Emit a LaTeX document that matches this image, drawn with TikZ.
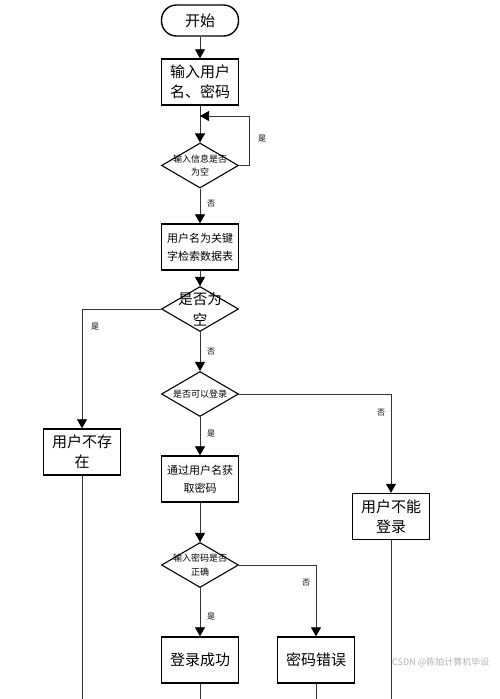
\documentclass[tikz,border=0pt]{standalone}
\usepackage{fontspec}
\setmainfont{Noto Sans CJK SC}
\usetikzlibrary{arrows.meta,shapes.geometric}
\tikzset{
  box/.style={draw=black, line width=1.4pt, rectangle, minimum width=77pt, minimum height=46pt, inner sep=0pt, align=center, fill=white},
  startbox/.style={draw=black, line width=1.4pt, rectangle, rounded corners=15pt, minimum width=77pt, minimum height=31pt, inner sep=0pt, align=center},
  dia/.style={draw=black, line width=1.1pt, diamond, minimum width=77pt, minimum height=45pt, inner sep=0pt},
  dtext/.style={align=center, inner sep=0pt},
  conn/.style={draw=black!80, line width=0.8pt},
  arr/.style={conn, -{Triangle[width=10pt,length=9pt,color=black,fill=black]}},
  lab/.style={font=\fontsize{8}{9}\selectfont, inner sep=0pt},
  big/.style={font=\fontsize{15}{20}\selectfont},
  mid/.style={font=\fontsize{11}{18}\selectfont},
  small/.style={font=\fontsize{9}{13.5}\selectfont},
}
\begin{document}
\begin{tikzpicture}[x=1pt,y=-1pt]
\useasboundingbox[fill=white] (0,0) rectangle (500,699);
% nodes
\node[startbox, big] (start) at (200,20.5) {开始};
\node[box, big] (b1) at (200,82) {输入用户\\名、密码};
\node[dia] (d1) at (200,165.5) {};
\node[dtext, small] (d1t) at (d1) {输入信息是否\\为空};
\node[box, mid] (b2) at (200,247) {用户名为关键\\字检索数据表};
\node[dia] (d2) at (200,309) {};
\node[dtext, font=\fontsize{14.5}{21}\selectfont] (d2t) at (d2) {是否为\\空};
\node[box, big] (ub) at (82,452) {用户不存\\在};
\node[dia] (d3) at (200,394) {};
\node[dtext, small] (d3t) at (d3) {是否可以登录};
\node[box, mid] (b3) at (200,479) {通过用户名获\\取密码};
\node[box, big] (nb) at (391,516.5) {用户不能\\登录};
\node[dia] (d4) at (200,565) {};
\node[dtext, small, font=\fontsize{9}{14}\selectfont] (d4t) at (d4) {输入密码是否\\正确};
\node[box, big] (ok) at (200,660) {登录成功};
\node[box, big] (pe) at (316,660) {密码错误};
% free ends
\coordinate (loop) at (200,116);
\coordinate (e1) at (82,699);
\coordinate (e2) at (391,699);
\coordinate (e3) at (200,699);
\coordinate (e4) at (316,699);
% connectors
\draw[arr] (start) -- (b1);
\draw[arr] (b1) -- (d1);
\draw[arr] (d1.east) -- ++(10,0) |- (loop);
\draw[arr] (d1) -- (b2);
\draw[arr] (b2) -- (d2);
\draw[arr] (d2.west) -| (ub.north);
\draw[arr] (d2) -- (d3);
\draw[arr] (d3.east) -| (nb.north);
\draw[arr] (d3) -- (b3);
\draw[arr] (b3) -- (d4);
\draw[arr] (d4) -- (ok);
\draw[arr] (d4.east) -| (pe.north);
\draw[conn] (ub.south) -- (e1);
\draw[conn] (nb.south) -- (e2);
\draw[conn] (ok.south) -- (e3);
\draw[conn] (pe.south) -- (e4);
% labels
\node[lab] (l1) at (262,139) {是};
\node[lab] (l2) at (211,204) {否};
\node[lab] (l3) at (95,327) {是};
\node[lab] (l4) at (211,352) {否};
\node[lab] (l5) at (381,413) {否};
\node[lab] (l6) at (211,434) {是};
\node[lab] (l7) at (306,583) {否};
\node[lab] (l8) at (211,617) {是};
\node[anchor=west, inner sep=0pt, text=black!30, font=\fontsize{9}{10}\selectfont] (wm) at (392,662) {CSDN @陈拍计算机毕设};
\end{tikzpicture}
\end{document}
